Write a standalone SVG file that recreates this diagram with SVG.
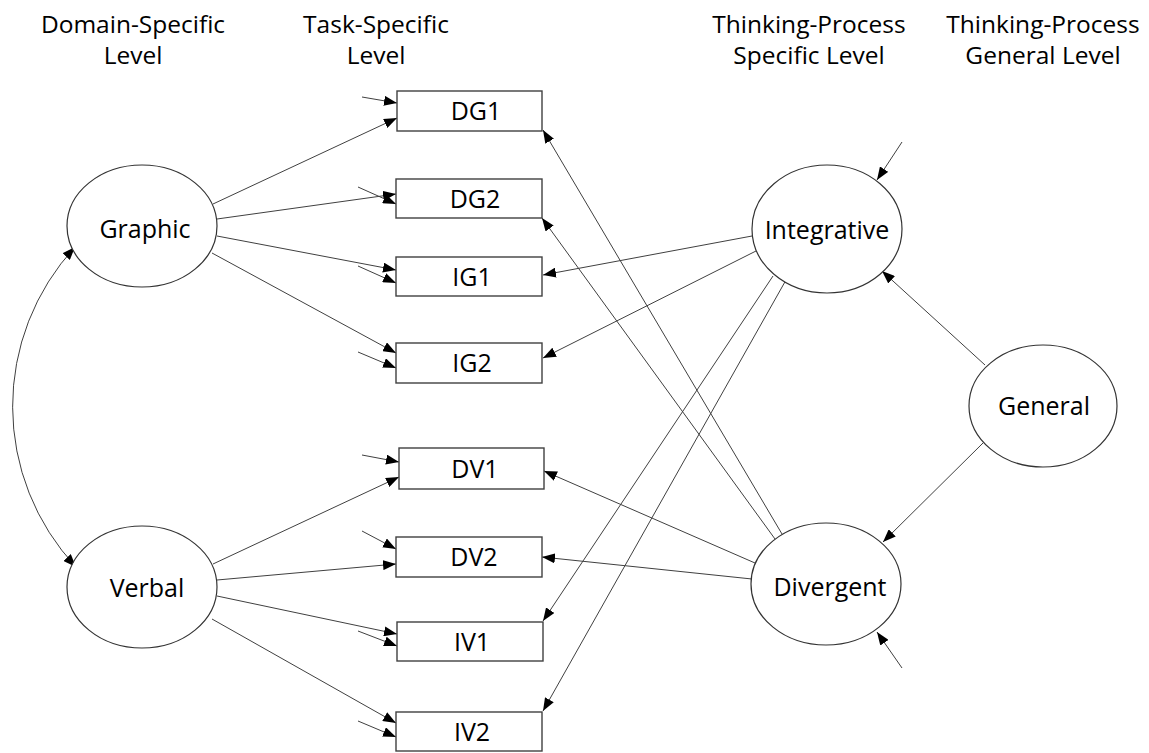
<svg xmlns="http://www.w3.org/2000/svg" width="1149" height="753" viewBox="0 0 1149 753">
<style>
.hdr{font-family:"Open Sans","Liberation Sans",sans-serif;font-size:24.5px;fill:#000;text-anchor:middle}
.lbl{font-family:"Open Sans","Liberation Sans",sans-serif;font-size:25px;fill:#000;text-anchor:middle}
.box{fill:#fff;stroke:#404040;stroke-width:1.4}
.ell{fill:#fff;stroke:#333;stroke-width:1.2}
.c{fill:none;stroke:#404040;stroke-width:1;marker-end:url(#ah)}
</style>
<defs>
<marker id="ah" markerUnits="userSpaceOnUse" markerWidth="13" markerHeight="10" refX="13" refY="5" orient="auto-start-reverse" viewBox="0 0 13 10">
<path d="M0,0 L13,5 L0,10 z" fill="#000"/>
</marker>
</defs>
<g id="headers">
<text class="hdr" x="133" y="33">Domain-Specific</text>
<text class="hdr" x="133" y="64">Level</text>
<text class="hdr" x="376" y="33">Task-Specific</text>
<text class="hdr" x="376" y="64">Level</text>
<text class="hdr" x="809" y="33">Thinking-Process</text>
<text class="hdr" x="809" y="64">Specific Level</text>
<text class="hdr" x="1043" y="33">Thinking-Process</text>
<text class="hdr" x="1043" y="64">General Level</text>
</g>
<g id="connectors">
<!-- Graphic loadings -->
<line class="c" x1="213" y1="204" x2="397" y2="118"/>
<line class="c" x1="217" y1="219" x2="396" y2="194"/>
<line class="c" x1="217" y1="236" x2="396" y2="270"/>
<line class="c" x1="212" y1="253" x2="396" y2="353"/>
<!-- Verbal loadings -->
<line class="c" x1="213" y1="564" x2="399" y2="477"/>
<line class="c" x1="217" y1="580" x2="396" y2="564"/>
<line class="c" x1="217" y1="596" x2="397" y2="634"/>
<line class="c" x1="212" y1="619" x2="396" y2="723"/>
<!-- error terms boxes -->
<line class="c" x1="362" y1="97" x2="397" y2="103"/>
<line class="c" x1="358" y1="187" x2="396" y2="204"/>
<line class="c" x1="358" y1="266" x2="396" y2="283"/>
<line class="c" x1="358" y1="352" x2="396" y2="368"/>
<line class="c" x1="362" y1="455" x2="399" y2="462"/>
<line class="c" x1="362" y1="531" x2="396" y2="549"/>
<line class="c" x1="358" y1="631" x2="397" y2="646"/>
<line class="c" x1="358" y1="721" x2="396" y2="737"/>
<!-- Integrative loadings -->
<line class="c" x1="752" y1="236" x2="543" y2="275"/>
<line class="c" x1="756" y1="251" x2="543" y2="358"/>
<line class="c" x1="773" y1="276" x2="543" y2="621"/>
<line class="c" x1="786" y1="280" x2="543" y2="711"/>
<!-- Divergent loadings -->
<line class="c" x1="782" y1="534" x2="543" y2="130"/>
<line class="c" x1="775" y1="539" x2="542" y2="218"/>
<line class="c" x1="755" y1="563" x2="544" y2="471"/>
<line class="c" x1="752" y1="579" x2="542" y2="557"/>
<!-- General -->
<line class="c" x1="985" y1="365" x2="882" y2="271"/>
<line class="c" x1="983" y1="443" x2="883" y2="542"/>
<!-- latent errors -->
<line class="c" x1="902" y1="142" x2="877" y2="180"/>
<line class="c" x1="902" y1="668" x2="877" y2="632"/>
<!-- covariance -->
<path class="c" style="marker-start:url(#ah)" d="M75,247 A235,235 0 0 0 76,567"/>
</g>
<g id="graphic"><ellipse class="ell" cx="142" cy="226" rx="75" ry="61"/><text class="lbl" x="145" y="238">Graphic</text></g>
<g id="verbal"><ellipse class="ell" cx="142" cy="587" rx="75" ry="61"/><text class="lbl" x="147" y="597">Verbal</text></g>
<g id="integrative"><ellipse class="ell" cx="827" cy="229" rx="75" ry="64"/><text class="lbl" x="827" y="239">Integrative</text></g>
<g id="divergent"><ellipse class="ell" cx="826" cy="584" rx="75" ry="61"/><text class="lbl" x="830" y="596">Divergent</text></g>
<g id="general"><ellipse class="ell" cx="1043" cy="406" rx="74" ry="61"/><text class="lbl" x="1044" y="415">General</text></g>
<g id="DG1"><rect class="box" x="397" y="91" width="145" height="40"/><text class="lbl" x="476" y="120">DG1</text></g>
<g id="DG2"><rect class="box" x="396" y="179" width="146" height="39"/><text class="lbl" x="475" y="208">DG2</text></g>
<g id="IG1"><rect class="box" x="396" y="257" width="146" height="39"/><text class="lbl" x="472" y="286">IG1</text></g>
<g id="IG2"><rect class="box" x="396" y="343" width="146" height="40"/><text class="lbl" x="472" y="372">IG2</text></g>
<g id="DV1"><rect class="box" x="399" y="448" width="145" height="41"/><text class="lbl" x="475" y="478">DV1</text></g>
<g id="DV2"><rect class="box" x="396" y="537" width="146" height="40"/><text class="lbl" x="474" y="566">DV2</text></g>
<g id="IV1"><rect class="box" x="397" y="622" width="146" height="39"/><text class="lbl" x="472" y="651">IV1</text></g>
<g id="IV2"><rect class="box" x="396" y="712" width="146" height="39"/><text class="lbl" x="472" y="741">IV2</text></g>
</svg>
